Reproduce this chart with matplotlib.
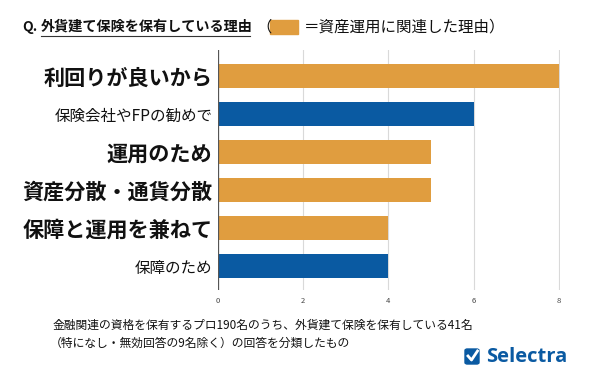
import matplotlib
matplotlib.use("Agg")
import matplotlib.pyplot as plt
import matplotlib.patches as patches
from matplotlib.lines import Line2D

plt.rcParams['font.family'] = ['Noto Sans CJK JP', 'DejaVu Sans']

reasons = ["利回りが良いから", "保険会社やFPの勧めで", "運用のため",
           "資産分散・通貨分散", "保障と運用を兼ねて", "保障のため"]
counts = [8, 6, 5, 5, 4, 4]
asset_related = [True, False, True, True, True, False]
xticks = [0, 2, 4, 6, 8]

ORANGE = "#E09D3F"
BLUE = "#0A5AA2"

W, H = 590, 380
fig = plt.figure(figsize=(W / 100, H / 100), dpi=100)


def px(x, y):
    # pixel coords (top-left origin) -> figure fraction
    return x / W, 1 - y / H


ax = fig.add_axes([218 / W, 1 - 290 / H, (560 - 218) / W, 240 / H])
ypos = list(range(len(reasons)))
colors = [ORANGE if a else BLUE for a in asset_related]
ax.barh(ypos, counts, height=0.63, color=colors, zorder=3)
ax.set_ylim(5.63, -0.684)
ax.set_xlim(0, 8.03)
ax.set_xticks(xticks)
ax.set_xticklabels([str(t) for t in xticks], fontsize=5.5, color="#444444")
ax.tick_params(axis="x", length=0, pad=5)
ax.tick_params(axis="y", length=0, pad=4)
ax.set_yticks(ypos)
ax.set_yticklabels(reasons)
for lbl, a in zip(ax.get_yticklabels(), asset_related):
    if a:
        lbl.set_fontsize(15.2)
        lbl.set_fontweight("bold")
    else:
        lbl.set_fontsize(11.2)
    lbl.set_color("#111111")
ax.grid(axis="x", color="#d9d9d9", linewidth=0.8, zorder=0)
for s in ax.spines.values():
    s.set_visible(False)
ax.axvline(0, color="#555555", linewidth=0.9, zorder=4)

# title
fig.text(*px(22, 27), "Q.", fontsize=10, fontweight="bold", va="center", color="#111111")
fig.text(*px(41, 27), "外貨建て保険を保有している理由", fontsize=10.2, fontweight="bold",
         va="center", color="#111111")
fig.add_artist(Line2D([41 / W, 250 / W], [1 - 36 / H, 1 - 36 / H], color="#333333", linewidth=0.8))
fig.text(*px(256, 27), "（", fontsize=11, va="center", color="#111111")
fig.add_artist(patches.Rectangle(px(270, 34), 28 / W, 14 / H, color=ORANGE))
fig.text(*px(304, 27), "＝資産運用に関連した理由）", fontsize=11.2, va="center", color="#111111")

# footnote
fig.text(*px(53, 325), "金融関連の資格を保有するプロ190名のうち、外貨建て保険を保有している41名",
         fontsize=8.5, va="center", color="#111111")
fig.text(*px(50, 343), "（特になし・無効回答の9名除く）の回答を分類したもの",
         fontsize=8.5, va="center", color="#111111")

# logo
fig.add_artist(patches.FancyBboxPatch(px(465, 364), 14 / W, 15 / H,
                                      boxstyle="round,pad=0,rounding_size=0.004", color=BLUE))
fig.add_artist(Line2D([468 / W, 471.5 / W, 477.5 / W], [1 - 356 / H, 1 - 360 / H, 1 - 351 / H],
                      color="white", linewidth=2))
fig.text(*px(486, 357), "Selectra", fontsize=14.5, fontweight="bold", va="center",
         color=BLUE, family=["Open Sans", "DejaVu Sans"])

fig.savefig("out.png", dpi=100, facecolor="white")
